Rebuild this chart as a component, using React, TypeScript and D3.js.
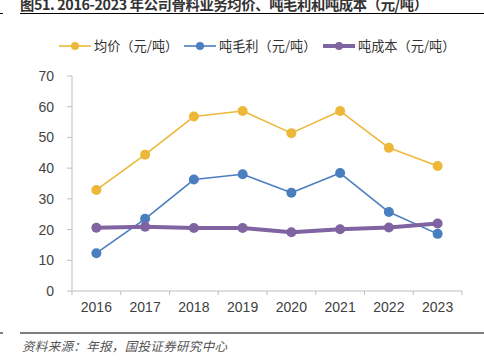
import React from "react";
import * as d3 from "d3";

const years = ["2016", "2017", "2018", "2019", "2020", "2021", "2022", "2023"];
const avgPrice = [32.9, 44.4, 56.8, 58.6, 51.4, 58.6, 46.6, 40.7];
const grossProfit = [12.3, 23.5, 36.3, 38.0, 32.0, 38.4, 25.7, 18.6];
const unitCost = [20.6, 20.9, 20.5, 20.5, 19.1, 20.1, 20.7, 22.0];
const yTicks = [0, 10, 20, 30, 40, 50, 60, 70];
const seriesNames = ["均价（元/吨）", "吨毛利（元/吨）", "吨成本（元/吨）"];

const W = 484, H = 364;

export default function App() {
  const x = d3.scaleBand<string>().domain(years).range([72, 462]);
  const y = d3.scaleLinear().domain([0, 70]).range([291, 76]);
  const cx = (d: string) => (x(d) as number) + x.bandwidth() / 2;
  const line = d3.line<number>().x((_, i) => cx(years[i])).y((v) => y(v));

  const series = [
    { name: seriesNames[0], data: avgPrice, color: "#EDB83A", width: 1.6, r: 5 },
    { name: seriesNames[1], data: grossProfit, color: "#4A7EBF", width: 1.6, r: 5 },
    { name: seriesNames[2], data: unitCost, color: "#8064A2", width: 4, r: 5 },
  ];
  const legendX = [59, 184, 323];
  const axisColor = "#BFBFBF";
  const font = "'Liberation Sans', Arial, sans-serif";
  const cjk = "'Noto Sans CJK SC', sans-serif";

  return (
    <svg width={W} height={H} style={{ position: "absolute", left: 0, top: 0, background: "#fff" }}>
      <text x={20} y={9.5} fontFamily={cjk} fontWeight="bold" fontSize={14.3} fill="#333" textLength={408} lengthAdjust="spacing">
        图51. 2016-2023 年公司骨料业务均价、吨毛利和吨成本（元/吨）
      </text>
      <line x1={20} x2={484} y1={13.5} y2={13.5} stroke="#000" strokeWidth={1.2} />
      <line x1={0} x2={3} y1={13.5} y2={13.5} stroke="#000" strokeWidth={1} />

      {series.map((s, i) => (
        <g key={s.name}>
          <line x1={legendX[i]} x2={legendX[i] + 32} y1={46} y2={46} stroke={s.color} strokeWidth={s.width} />
          <circle cx={legendX[i] + 16} cy={46} r={4} fill={s.color} />
          <text x={legendX[i] + 35} y={50.5} fontFamily={cjk} fontSize={13.2} fill="#333">
            {s.name}
          </text>
        </g>
      ))}

      <line x1={72} x2={72} y1={76} y2={291} stroke={axisColor} />
      <line x1={72} x2={462} y1={291} y2={291} stroke={axisColor} />
      {yTicks.map((t) => (
        <g key={t}>
          <line x1={67} x2={72} y1={y(t)} y2={y(t)} stroke={axisColor} />
          <text x={54} y={y(t) + 5} textAnchor="end" fontFamily={font} fontSize={14} fill="#444">
            {t}
          </text>
        </g>
      ))}
      {[...years.map((d) => x(d) as number), 462].map((p, i) => (
        <line key={i} x1={p} x2={p} y1={291} y2={295} stroke={axisColor} />
      ))}
      {years.map((d) => (
        <text key={d} x={cx(d)} y={312} textAnchor="middle" fontFamily={font} fontSize={14} fill="#404040">
          {d}
        </text>
      ))}

      {series.map((s) => (
        <g key={s.name}>
          <path d={line(s.data) as string} fill="none" stroke={s.color} strokeWidth={s.width} strokeLinejoin="round" />
          {s.data.map((v, i) => (
            <circle key={i} cx={cx(years[i])} cy={y(v)} r={s.r} fill={s.color} />
          ))}
        </g>
      ))}

      <line x1={20} x2={484} y1={333} y2={333} stroke="#000" strokeWidth={1.2} />
      <line x1={0} x2={3} y1={333} y2={333} stroke="#000" strokeWidth={1} />
      <text x={22} y={351} fontFamily={cjk} fontSize={12.5} fontStyle="italic" fill="#555" textLength={205} lengthAdjust="spacing">
        资料来源：年报，国投证券研究中心
      </text>
    </svg>
  );
}
